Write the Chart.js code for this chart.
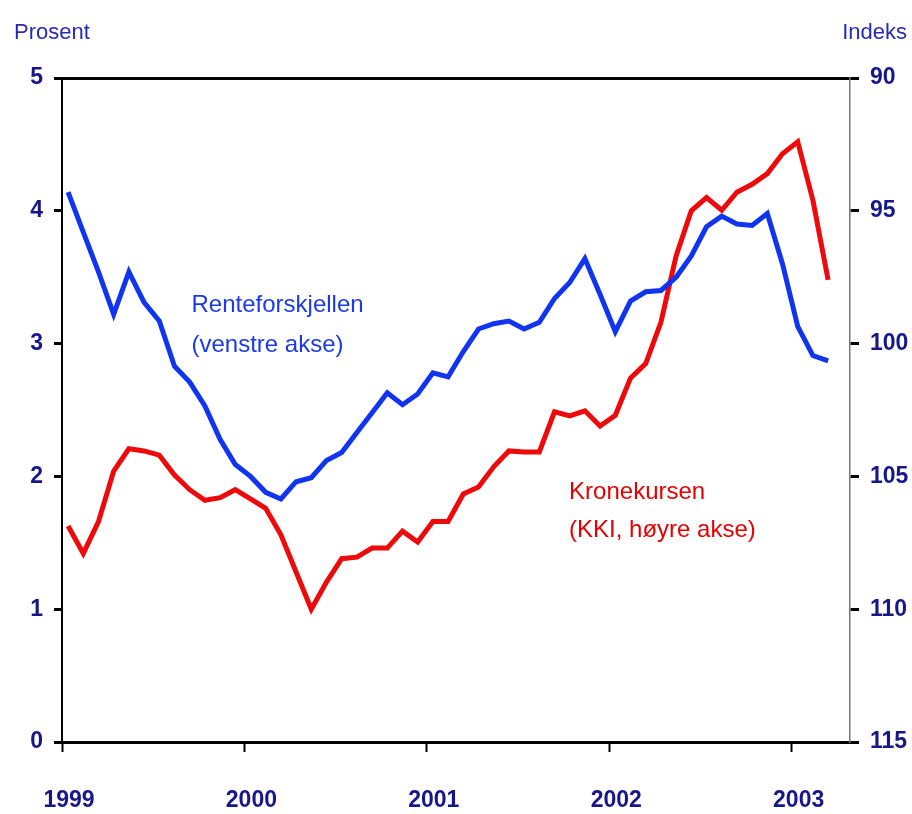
<!DOCTYPE html>
<html>
<head>
<meta charset="utf-8">
<script src="https://cdn.jsdelivr.net/npm/chart.js@4.4.1/dist/chart.umd.min.js"></script>
<style>
  html, body { margin: 0; padding: 0; background: #fff; }
  #wrap { width: 912px; height: 814px; }
</style>
</head>
<body>
<div id="wrap"><canvas id="kkiChart" width="912" height="814"></canvas></div>
<script>
// monthly observations, Jan 1999 - Mar 2003
const months = [
  '1999-01','1999-02','1999-03','1999-04','1999-05','1999-06','1999-07','1999-08','1999-09','1999-10','1999-11','1999-12',
  '2000-01','2000-02','2000-03','2000-04','2000-05','2000-06','2000-07','2000-08','2000-09','2000-10','2000-11','2000-12',
  '2001-01','2001-02','2001-03','2001-04','2001-05','2001-06','2001-07','2001-08','2001-09','2001-10','2001-11','2001-12',
  '2002-01','2002-02','2002-03','2002-04','2002-05','2002-06','2002-07','2002-08','2002-09','2002-10','2002-11','2002-12',
  '2003-01','2003-02','2003-03'
];
const yearTicks = [1999, 2000, 2001, 2002, 2003];

// Renteforskjellen, prosent (left axis)
const renteforskjell = [
  4.14,3.84,3.54,3.22,3.54,3.31,3.17,2.83,2.71,2.53,2.28,2.09,
  2.00,1.88,1.83,1.96,1.99,2.12,2.18,2.33,2.48,2.63,2.54,2.62,
  2.78,2.75,2.94,3.11,3.15,3.17,3.11,3.16,3.34,3.46,3.64,3.37,
  3.09,3.32,3.39,3.40,3.50,3.66,3.88,3.96,3.90,3.89,3.98,3.60,
  3.13,2.91,2.87
];
// Kronekursen KKI, indeks (right axis, inverted)
const kronekurs = [
  106.87,107.9,106.7,104.8,103.96,104.04,104.2,104.95,105.5,105.9,105.8,105.5,
  105.85,106.2,107.2,108.6,110.0,108.98,108.1,108.04,107.7,107.7,107.06,107.47,
  106.7,106.7,105.66,105.4,104.64,104.04,104.08,104.08,102.57,102.72,102.53,103.1,
  102.7,101.3,100.75,99.2,96.7,95.0,94.5,94.98,94.3,94.0,93.6,92.85,
  92.4,94.6,97.6
];

const FONT = "'Liberation Sans', Arial, sans-serif";
const NAVY = '#17178a';
const tickFont = { family: FONT, size: 23, weight: 'bold' };

function monthX(m) {
  const [y, mo] = m.split('-').map(Number);
  return y + (mo - 0.6) / 12;
}
const pts = vals => vals.map((v, i) => ({ x: monthX(months[i]), y: v }));

// axis titles + line labels
const textPlugin = {
  id: 'texts',
  afterDraw(chart) {
    const { ctx, scales } = chart;
    ctx.save();
    ctx.textBaseline = 'alphabetic';
    ctx.font = '22px ' + FONT;
    ctx.fillStyle = '#2a2ab0';
    ctx.textAlign = 'left';
    ctx.fillText('Prosent', 14, 39);
    ctx.textAlign = 'right';
    ctx.fillText('Indeks', 907, 39);

    ctx.font = '24px ' + FONT;
    ctx.textAlign = 'left';
    ctx.fillStyle = '#1a3ae8';
    let x = scales.x.getPixelForValue(1999.71);
    ctx.fillText('Renteforskjellen', x, scales.y.getPixelForValue(3.24));
    ctx.fillText('(venstre akse)', x, scales.y.getPixelForValue(2.94));
    ctx.fillStyle = '#e60000';
    x = scales.x.getPixelForValue(2001.78);
    ctx.fillText('Kronekursen', x, scales.y.getPixelForValue(1.83));
    ctx.fillText('(KKI, høyre akse)', x, scales.y.getPixelForValue(1.54));
    ctx.restore();
  }
};

new Chart(document.getElementById('kkiChart'), {
  type: 'line',
  data: {
    datasets: [
      { label: 'Renteforskjellen', data: pts(renteforskjell), yAxisID: 'y',
        borderColor: '#1034f0', borderWidth: 5, pointRadius: 0, tension: 0 },
      { label: 'Kronekursen', data: pts(kronekurs), yAxisID: 'y2',
        borderColor: '#ee0a0a', borderWidth: 5, pointRadius: 0, tension: 0 }
    ]
  },
  options: {
    responsive: false, animation: false,
    layout: { padding: { top: 78, left: 18, right: 0, bottom: 0 } },
    plugins: { legend: { display: false }, tooltip: { enabled: false } },
    scales: {
      x: {
        type: 'linear', min: 1999, max: 2003.32,
        afterBuildTicks: s => { s.ticks = yearTicks.map(v => ({ value: v })); },
        afterFit: s => { s.height = 72; },
        ticks: { color: NAVY, font: tickFont, padding: 35, labelOffset: 7,
                 callback: v => String(v), maxRotation: 0 },
        grid: { drawOnChartArea: false, tickLength: 10, tickColor: '#000', tickWidth: 2 },
        border: { color: '#000', width: 3 }
      },
      x2: {
        type: 'linear', position: 'top', min: 1999, max: 2003.32,
        afterFit: s => { s.height = 0; },
        ticks: { display: false }, grid: { display: false },
        border: { color: '#000', width: 3 }
      },
      y: {
        min: 0, max: 5,
        afterFit: s => { s.width = 44; },
        ticks: { stepSize: 1, color: NAVY, font: tickFont, padding: 11 },
        grid: { drawOnChartArea: false, tickLength: 8, tickColor: '#000', tickWidth: 3 },
        border: { color: '#000', width: 2 }
      },
      y2: {
        position: 'right', reverse: true, min: 90, max: 115,
        afterFit: s => { s.width = 62; },
        ticks: { stepSize: 5, color: NAVY, font: tickFont, padding: 11 },
        grid: { drawOnChartArea: false, tickLength: 9, tickColor: '#000', tickWidth: 3 },
        border: { color: '#777', width: 1.5 }
      }
    }
  },
  plugins: [textPlugin]
});
</script>
</body>
</html>
